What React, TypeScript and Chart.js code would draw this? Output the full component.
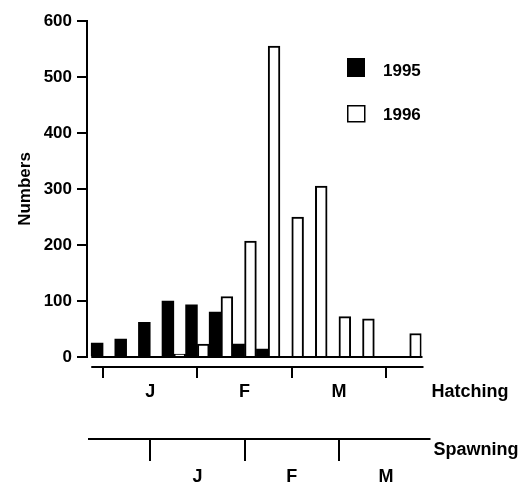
import React, { useEffect, useRef } from 'react';
import { Chart, registerables } from 'chart.js';

Chart.register(...registerables);

// Weekly hatching counts, January to March
const weeks = [1, 2, 3, 4, 5, 6, 7, 8, 9, 10, 11, 12, 13, 14];
const counts1995 = [25, 32, 62, 100, 93, 80, 23, 14, 0, 0, 0, 0, 0, 0];
const counts1996 = [0, 0, 0, 5, 23, 108, 207, 555, 250, 305, 72, 68, 0, 42];
const seriesNames = ['1995', '1996'];

const yMax = 600;
const yStep = 100;

// Month boundaries and month labels (as week indices) on the two time axes
const hatchingTicks = [0, 4, 8, 12];
const hatchingLabelAt = [2, 6, 10];
const hatchingMonths = ['J', 'F', 'M'];
const spawningTicks = [2, 6, 10];
const spawningLabelAt = [4, 8, 12];
const spawningMonths = ['J', 'F', 'M'];

const FONT = '"Liberation Sans", Arial, Helvetica, sans-serif';

const axesPlugin = {
  id: 'timeAxes',
  afterDraw(chart: any) {
    const { ctx, chartArea } = chart;
    const x = chart.scales.x;
    const y = chart.scales.y;
    const y0 = y.getPixelForValue(0);
    const first = x.getPixelForValue(-0.5);
    const last = x.getPixelForValue(weeks.length - 0.5);

    const line = (x1: number, y1: number, x2: number, y2: number) => {
      ctx.beginPath();
      ctx.moveTo(x1, y1);
      ctx.lineTo(x2, y2);
      ctx.stroke();
    };

    ctx.save();
    ctx.strokeStyle = '#000';
    ctx.fillStyle = '#000';
    ctx.lineWidth = 2;

    // zero line under the bars
    line(first, y0, last + 1, y0);

    // hatching axis
    const hy = y0 + 10;
    line(first, hy, last + 2, hy);
    hatchingTicks.forEach((t) => {
      const px = Math.round(x.getPixelForValue(t));
      line(px, hy, px, hy + 11);
    });
    ctx.font = `bold 18px ${FONT}`;
    ctx.textAlign = 'center';
    ctx.textBaseline = 'middle';
    hatchingMonths.forEach((m, i) => {
      ctx.fillText(m, x.getPixelForValue(hatchingLabelAt[i]), hy + 25);
    });
    ctx.textAlign = 'left';
    ctx.fillText('Hatching', chartArea.right + 10, hy + 25);

    // spawning axis
    const sy = y0 + 82;
    line(chartArea.left + 1, sy, last + 9, sy);
    spawningTicks.forEach((t) => {
      const px = Math.round(x.getPixelForValue(t));
      line(px, sy, px, sy + 22);
    });
    ctx.textAlign = 'center';
    spawningMonths.forEach((m, i) => {
      ctx.fillText(m, x.getPixelForValue(spawningLabelAt[i]), sy + 38);
    });
    ctx.textAlign = 'left';
    ctx.fillText('Spawning', chartArea.right + 12, sy + 11);

    // legend
    const lx = chartArea.left + 260;
    const ly = chartArea.top + 37;
    ctx.fillRect(lx, ly, 18, 19);
    ctx.fillStyle = '#fff';
    ctx.fillRect(lx, ly + 47, 18, 17);
    ctx.lineWidth = 1.5;
    ctx.strokeRect(lx + 0.75, ly + 47.75, 17, 16);
    ctx.fillStyle = '#000';
    ctx.font = `bold 17px ${FONT}`;
    ctx.textBaseline = 'middle';
    ctx.fillText(seriesNames[0], lx + 36, ly + 13);
    ctx.fillText(seriesNames[1], lx + 36, ly + 57);

    // y axis title
    ctx.translate(25, (chartArea.top + chartArea.bottom) / 2);
    ctx.rotate(-Math.PI / 2);
    ctx.textAlign = 'center';
    ctx.fillText('Numbers', 0, 0);
    ctx.restore();
  },
};

export default function App() {
  const canvasRef = useRef<HTMLCanvasElement | null>(null);

  useEffect(() => {
    if (!canvasRef.current) return;
    const toPoints = (values: number[]) => weeks.map((_, i) => ({ x: i, y: values[i] }));

    const chart = new Chart(canvasRef.current, {
      type: 'bar',
      data: {
        datasets: [
          {
            label: seriesNames[0],
            data: toPoints(counts1995),
            backgroundColor: '#000',
            borderWidth: 0,
            barPercentage: 1,
            categoryPercentage: 1,
          },
          {
            label: seriesNames[1],
            data: toPoints(counts1996),
            backgroundColor: '#fff',
            borderColor: '#000',
            borderWidth: 2,
            borderSkipped: 'bottom',
            barPercentage: 1,
            categoryPercentage: 1,
          },
        ],
      },
      options: {
        responsive: false,
        animation: false,
        layout: { padding: { left: 0, top: 21, right: 107.5, bottom: 130 } },
        plugins: {
          legend: { display: false },
          tooltip: { enabled: false },
        },
        scales: {
          x: {
            type: 'linear',
            display: false,
            offset: false,
            min: -0.68,
            max: weeks.length - 0.5,
          },
          y: {
            min: 0,
            max: yMax,
            ticks: {
              stepSize: yStep,
              color: '#000',
              padding: 5,
              font: { family: FONT, size: 17, weight: 'bold' },
            },
            grid: {
              drawOnChartArea: false,
              tickLength: 10,
              color: '#000',
              lineWidth: 2,
            },
            border: { color: '#000', width: 2 },
            afterFit: (scale: any) => {
              scale.width = 87;
            },
          },
        },
      },
      plugins: [axesPlugin],
    });

    return () => chart.destroy();
  }, []);

  return (
    <div style={{ position: 'fixed', left: 0, top: 0, width: 529, height: 487, background: '#fff' }}>
      <canvas ref={canvasRef} width={529} height={487} />
    </div>
  );
}
